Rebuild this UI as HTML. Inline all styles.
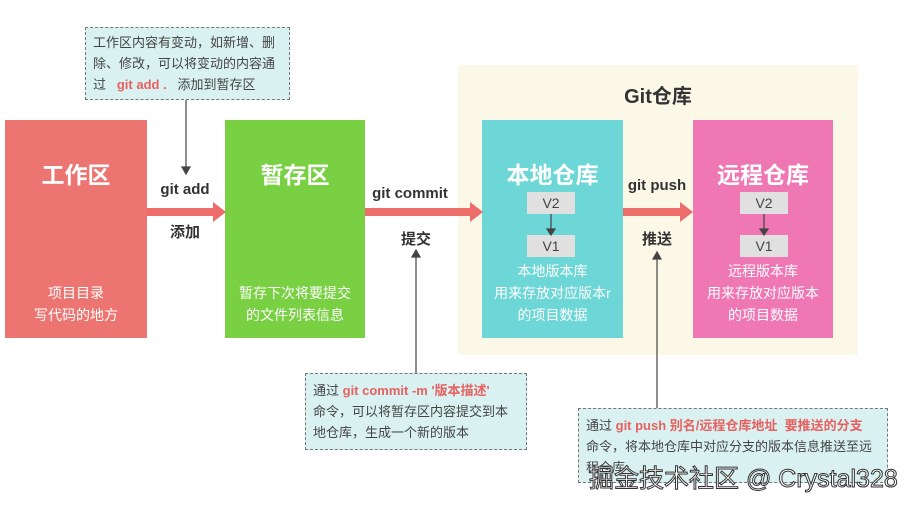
<!DOCTYPE html>
<html><head><meta charset="utf-8"><style>
body{margin:0;width:916px;height:508px;background:#fff;position:relative;overflow:hidden;font-family:"Liberation Sans","Noto Sans CJK SC",sans-serif}
div{position:absolute;box-sizing:border-box}
.box{color:#fff;text-align:center}
.t{font-size:23px;font-weight:bold;width:100%;top:36px}
.d{font-size:14px;line-height:22px;width:100%}
.v{background:#e0e0e0;color:#444;font-size:14px;width:48px;height:22px;line-height:22px;text-align:center}
.lbl{font-size:15px;font-weight:bold;color:#333;text-align:center;white-space:nowrap}
.note{background:#d9f1f1;border:1px dashed #777;font-size:13px;color:#444;line-height:22px;padding:6px 8px}
.r{color:#e8605f;font-weight:bold}
</style></head><body>
<div style="left:458px;top:65px;width:400px;height:290px;background:#fbf8e8"></div>
<div class="lbl" style="left:458px;top:80px;width:400px;font-size:20px">Git仓库</div>

<div class="box" style="left:5px;top:120px;width:142px;height:218px;background:#ec7572">
<div class="t">工作区</div><div class="d" style="top:162px">项目目录<br>写代码的地方</div></div>
<div class="box" style="left:225px;top:120px;width:140px;height:218px;background:#78d042">
<div class="t">暂存区</div><div class="d" style="top:162px">暂存下次将要提交<br>的文件列表信息</div></div>
<div class="box" style="left:482px;top:120px;width:141px;height:218px;background:#6dd6d6">
<div class="t" style="top:36px">本地仓库</div><div class="d" style="top:140px">本地版本库<br>用来存放对应版本r<br>的项目数据</div></div>
<div class="box" style="left:693px;top:120px;width:140px;height:218px;background:#ee77b4">
<div class="t" style="top:36px">远程仓库</div><div class="d" style="top:140px">远程版本库<br>用来存放对应版本<br>的项目数据</div></div>

<div class="v" style="left:527px;top:192px">V2</div><div class="v" style="left:527px;top:235px">V1</div>
<div class="v" style="left:740px;top:192px">V2</div><div class="v" style="left:740px;top:235px">V1</div>

<svg style="position:absolute;left:0;top:0" width="916" height="508">
<g fill="#ec6d69">
<rect x="147" y="208" width="66" height="8"/><polygon points="213,202 226,212 213,222"/>
<rect x="365" y="208" width="106" height="8"/><polygon points="470,202 483,212 470,222"/>
<rect x="623" y="208" width="58" height="8"/><polygon points="680,202 693,212 680,222"/>
</g>
<g stroke="#444" stroke-width="1.2" fill="#444">
<line x1="551" y1="214" x2="551" y2="230"/><polygon points="547,229 555,229 551,235"/>
<line x1="764" y1="214" x2="764" y2="230"/><polygon points="760,229 768,229 764,235"/>
<line x1="186" y1="100" x2="186" y2="168"/><polygon points="182,167 190,167 186,174"/>
<line x1="416" y1="373" x2="416" y2="256"/><polygon points="412,257 420,257 416,250"/>
<line x1="657" y1="408" x2="657" y2="258"/><polygon points="653,259 661,259 657,252"/>
</g></svg>

<div class="lbl" style="left:150px;top:181px;width:70px">git add</div>
<div class="lbl" style="left:150px;top:221px;width:70px">添加</div>
<div class="lbl" style="left:360px;top:185px;width:100px">git commit</div>
<div class="lbl" style="left:366px;top:228px;width:100px">提交</div>
<div class="lbl" style="left:617px;top:177px;width:80px">git push</div>
<div class="lbl" style="left:617px;top:228px;width:80px">推送</div>

<div class="note" style="left:85px;top:27px;width:205px;height:73px;padding:4px 7px;line-height:21px">工作区内容有变动，如新增、删除、修改，可以将变动的内容通过 &nbsp;&nbsp;<span class="r">git add .</span> &nbsp;&nbsp;添加到暂存区</div>
<div class="note" style="left:305px;top:373px;width:222px;height:77px;padding:6px 7px;line-height:21px">通过 <span class="r">git commit -m '版本描述'</span><br>命令，可以将暂存区内容提交到本地仓库，生成一个新的版本</div>
<div class="note" style="left:578px;top:408px;width:310px;height:75px;padding:6px 7px;line-height:21px">通过 <span class="r">git push 别名/远程仓库地址 &nbsp;要推送的分支</span><br>命令，将本地仓库中对应分支的版本信息推送至远程仓库</div>
<div style="left:589px;top:459px;font-size:25px;color:#fff;-webkit-text-stroke:1px #333;white-space:nowrap">掘金技术社区 @ Crystal328</div>
</body></html>
